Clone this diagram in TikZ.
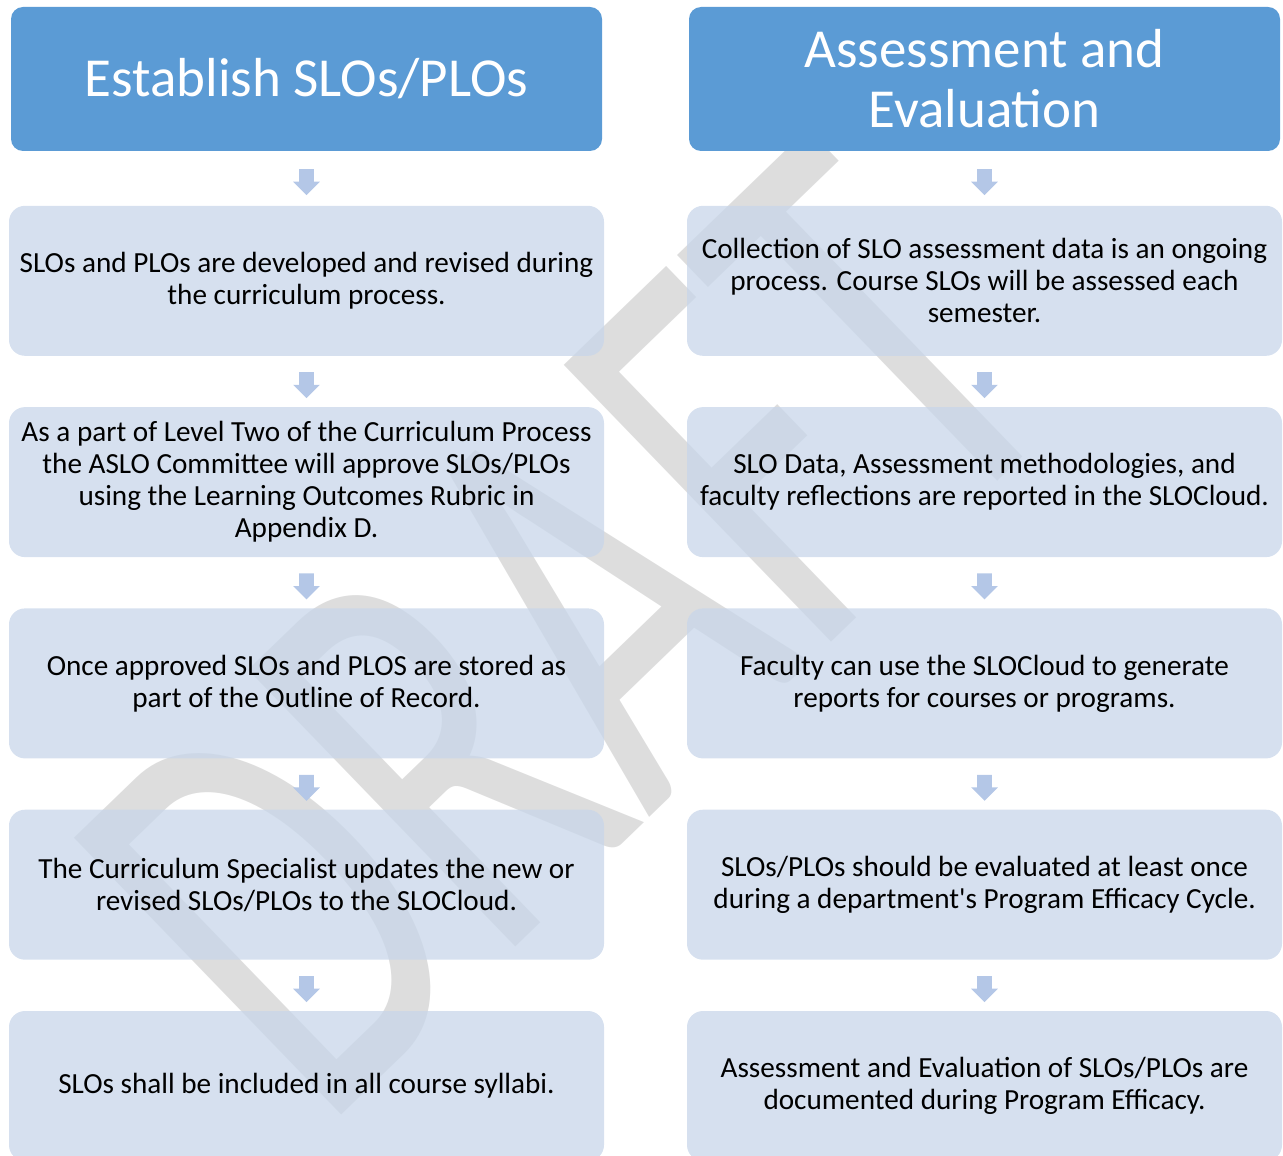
\documentclass[tikz,border=0pt]{standalone}
\usepackage{fontspec}
\newfontfamily\calfont{Carlito}
\usetikzlibrary{positioning, calc, shapes.arrows}
\definecolor{headBlue}{HTML}{5B9BD5}
\definecolor{stageBlue}{RGB}{200,214,234}
\definecolor{arrowBlue}{HTML}{B4C7E7}
\definecolor{markGray}{RGB}{221,221,221}

\begin{document}
\begin{tikzpicture}[x=0.5pt, y=-0.5pt,
    head/.style={fill=headBlue, rounded corners=6pt, minimum width=295.5pt, minimum height=72pt,
        inner sep=0pt, align=center, text=white, font=\calfont\fontsize{27.5}{30}\selectfont},
    stage/.style={fill=stageBlue, fill opacity=0.75, text opacity=1, rounded corners=8pt,
        minimum width=297.5pt, minimum height=75pt, inner sep=0pt, align=center,
        font=\calfont\fontsize{14.6}{16}\selectfont},
    downarr/.style={single arrow, draw=none, fill=arrowBlue, rotate=-90, minimum height=13pt,
        inner sep=3.5pt, single arrow head extend=3pt},
    wmark/.style={text=markGray, inner sep=0pt, font=\calfont\fontsize{196}{196}\selectfont}]
    \useasboundingbox (0,0) rectangle (1283,1155);

    % Watermark
    \node[wmark, anchor=base west, rotate=44, yscale=1.53] (wm) at (322,1134) {DRAFT};

    % Headers
    \node[head] (hdL) at (306.5,79) {Establish SLOs/PLOs};
    \node[head] (hdR) at (984.5,79) {Assessment and\\Evaluation};

    % Left column
    \node[stage, below=27pt of hdL] (l1) {SLOs and PLOs are developed and revised during\\the curriculum process.};
    \node[stage, below=25.25pt of l1] (l2) {As a part of Level Two of the Curriculum Process\\the ASLO Committee will approve SLOs/PLOs\\using the Learning Outcomes Rubric in\\Appendix D.};
    \node[stage, below=25.25pt of l2] (l3) {Once approved SLOs and PLOS are stored as\\part of the Outline of Record.};
    \node[stage, below=25.25pt of l3] (l4) {The Curriculum Specialist updates the new or\\revised SLOs/PLOs to the SLOCloud.};
    \node[stage, below=25.25pt of l4] (l5) {SLOs shall be included in all course syllabi.};

    % Right column
    \node[stage, below=27pt of hdR] (r1) {Collection of SLO assessment data is an ongoing\\process. Course SLOs will be assessed each\\semester.};
    \node[stage, below=25.25pt of r1] (r2) {SLO Data, Assessment methodologies, and\\faculty reflections are reported in the SLOCloud.};
    \node[stage, below=25.25pt of r2] (r3) {Faculty can use the SLOCloud to generate\\reports for courses or programs.};
    \node[stage, below=25.25pt of r3] (r4) {SLOs/PLOs should be evaluated at least once\\during a department's Program Efficacy Cycle.};
    \node[stage, below=25.25pt of r4] (r5) {Assessment and Evaluation of SLOs/PLOs are\\documented during Program Efficacy.};

    % Arrows
    \path (hdL) -- node[downarr] {} (l1);
    \path (l1) -- node[downarr] {} (l2);
    \path (l2) -- node[downarr] {} (l3);
    \path (l3) -- node[downarr] {} (l4);
    \path (l4) -- node[downarr] {} (l5);
    \path (hdR) -- node[downarr] {} (r1);
    \path (r1) -- node[downarr] {} (r2);
    \path (r2) -- node[downarr] {} (r3);
    \path (r3) -- node[downarr] {} (r4);
    \path (r4) -- node[downarr] {} (r5);
\end{tikzpicture}
\end{document}
